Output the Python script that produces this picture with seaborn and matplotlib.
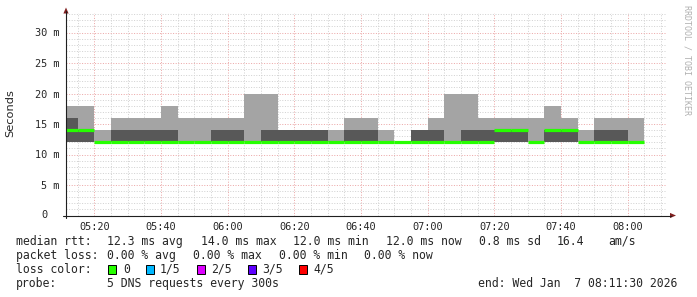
import numpy as np
import pandas as pd
import matplotlib
matplotlib.use("Agg")
import matplotlib.pyplot as plt
import seaborn as sns
from matplotlib.patches import Rectangle, Polygon
from matplotlib.lines import Line2D

# ---------------- data (5-minute slots, values in ms) ----------------
slot_start = ["05:10", "05:15", "05:20", "05:25", "05:30", "05:35", "05:40", "05:45",
              "05:50", "05:55", "06:00", "06:05", "06:10", "06:15", "06:20", "06:25",
              "06:30", "06:35", "06:40", "06:45", "06:50", "06:55", "07:00", "07:05",
              "07:10", "07:15", "07:20", "07:25", "07:30", "07:35", "07:40", "07:45",
              "07:50", "07:55", "08:00"]
ping_min = [12, 12, 12, 12, 12, 12, 12, 12, 12, 12, 12, 12, 12, 12, 12, 12, 12, 12,
            12, 12, 12, 12, 12, 12, 12, 12, 12, 12, 12, 12, 12, 12, 12, 12, 12]
ping_p2 = [12, 12, 12, 12, 12, 12, 12, 12, 12, 12, 12, 12, 12, 12, 12, 12, 12, 12,
           12, 12, 12, 12, 12, 12, 12, 12, 12, 12, 12, 12, 12, 12, 12, 12, 12]
ping_median = [14, 14, 12, 12, 12, 12, 12, 12, 12, 12, 12, 12, 12, 12, 12, 12, 12, 12,
               12, 12, 12, 12, 12, 12, 12, 12, 14, 14, 12, 14, 14, 12, 12, 12, 12]
ping_p4 = [16, 14, 12, 14, 14, 14, 14, 12, 12, 14, 14, 12, 14, 14, 14, 14, 12, 14,
           14, 12, 12, 14, 14, 12, 14, 14, 14, 14, 12, 14, 14, 12, 14, 14, 12]
ping_max = [18, 18, 14, 16, 16, 16, 18, 16, 16, 16, 16, 20, 20, 14, 14, 14, 14, 16,
            16, 14, 12, 14, 16, 20, 20, 16, 16, 16, 16, 18, 16, 14, 16, 16, 16]

x_tick_labels = ["05:20", "05:40", "06:00", "06:20", "06:40", "07:00", "07:20", "07:40", "08:00"]
y_tick_values = [0, 5, 10, 15, 20, 25, 30]
y_tick_labels = ["0", "5 m", "10 m", "15 m", "20 m", "25 m", "30 m"]

stats_rtt = ["median rtt:", "12.3 ms avg", "14.0 ms max", "12.0 ms min", "12.0 ms now",
             "0.8 ms sd", "16.4", "am/s"]
stats_loss = ["packet loss:", "0.00 % avg", "0.00 % max", "0.00 % min", "0.00 % now"]
loss_labels = ["0", "1/5", "2/5", "3/5", "4/5"]
loss_colors = ["#26ff00", "#00b8ff", "#dd00ff", "#5e00ff", "#ff0000"]
probe_text = ["probe:", "5 DNS requests every 300s", "end: Wed Jan  7 08:11:30 2026"]
STEP_MIN = 5


def to_min(s):
    h, m = s.split(":")
    return int(h) * 60 + int(m)


t0 = np.array([to_min(s) for s in slot_start], dtype=float)
t_edges = np.append(t0, t0[-1] + STEP_MIN)


def ext(a):
    a = np.asarray(a, dtype=float)
    return np.append(a, a[-1])


# ---------------- figure / layout in reference pixels ----------------
W, H = 697, 297
DPI = 100
sns.set_style("white")
plt.rcParams["font.family"] = ["DejaVu Sans Mono", "DejaVu Sans"]


def fx(x):
    return x / W


def fy(y):
    return 1 - y / H


fig = plt.figure(figsize=(W / DPI, H / DPI), dpi=DPI, facecolor="white")
AX_L, AX_R, AX_T, AX_B = 66, 666, 13, 215.5
ax = fig.add_axes([fx(AX_L), fy(AX_B), (AX_R - AX_L) / W, (AX_B - AX_T) / H])
ax.set_facecolor("white")
px_per_ms = 6.1
ymax = (AX_B - AX_T) / px_per_ms
xmin = to_min("05:11") + 0.5
ax.set_xlim(xmin, xmin + 180)
ax.set_ylim(0, ymax)

# smoke: outer pair (min..max) light, inner pair (p2..p4) dark
ax.fill_between(t_edges, ext(ping_min), ext(ping_max), step="post",
                color="#a4a4a4", lw=0, zorder=2)
ax.fill_between(t_edges, ext(ping_p2), ext(ping_p4), step="post",
                color="#585858", lw=0, zorder=2.1)

# median bars via seaborn (separate horizontal segment per slot)
rows = []
for i, (ts, m) in enumerate(zip(t0, ping_median)):
    rows.append({"t": ts, "ms": m, "seg": i})
    rows.append({"t": ts + STEP_MIN, "ms": m, "seg": i})
df_med = pd.DataFrame(rows)
sns.lineplot(data=df_med, x="t", y="ms", units="seg", estimator=None,
             color="#26ff00", lw=2.3, ax=ax, legend=False,
             solid_capstyle="butt", zorder=3)

# ticks and grid
major_x = [to_min(s) for s in x_tick_labels]
ax.set_xticks(major_x)
ax.set_xticklabels(x_tick_labels)
ax.set_xticks(np.arange(315, 495, 5), minor=True)
ax.set_yticks(y_tick_values)
ax.set_yticklabels([""] + y_tick_labels[1:])
ax.set_yticks(np.arange(1, 34, 1), minor=True)
ax.set_xlabel("")
ax.set_ylabel("")

ax.grid(which="minor", color="#d2d2d2", lw=0.72, ls=(0, (1, 1.6)), zorder=0)
ax.grid(which="major", color="#eca8a8", lw=0.72, ls=(0, (1, 1.6)), zorder=0.5)
ax.set_axisbelow(True)
for s in ax.spines.values():
    s.set_visible(False)

axis_col = "#1f1f1f"
ax.tick_params(which="major", direction="out", length=2.2, width=0.7, color=axis_col,
               labelsize=7.4, pad=2.4)
ax.tick_params(which="minor", direction="out", length=1.4, width=0.7, color=axis_col)
ax.tick_params(axis="x", which="major", pad=2.8)
for lab in ax.get_xticklabels() + ax.get_yticklabels():
    lab.set_family("DejaVu Sans Mono")

# "0" label sits under the digit column like rrdtool
fig.text(fx(44.5), fy(215.5), y_tick_labels[0], ha="center", va="center",
         fontsize=7.4, family="DejaVu Sans Mono")

# axis lines with arrows
fig.add_artist(Line2D([fx(63), fx(671)], [fy(AX_B), fy(AX_B)], color=axis_col, lw=0.8))
fig.add_artist(Line2D([fx(AX_L), fx(AX_L)], [fy(218), fy(11)], color=axis_col, lw=0.8))
arrow_col = "#801f1f"
fig.add_artist(Polygon([[fx(670), fy(AX_B - 2.6)], [fx(670), fy(AX_B + 2.6)], [fx(676), fy(AX_B)]],
                       closed=True, color=arrow_col, lw=0))
fig.add_artist(Polygon([[fx(AX_L - 2.6), fy(13.5)], [fx(AX_L + 2.6), fy(13.5)], [fx(AX_L), fy(7.5)]],
                       closed=True, color=arrow_col, lw=0))

# y-axis title and watermark
fig.text(fx(10), fy(113.5), "Seconds", rotation=90, ha="center", va="center",
         fontsize=8.2, family="DejaVu Sans")
fig.text(fx(687.5), fy(60), "RRDTOOL / TOBI OETIKER", rotation=270, ha="center", va="center",
         fontsize=6.0, color="#b0b0b0", family="DejaVu Sans Mono")

# legend / statistics block
FS = 8.3
rtt_x = [16, 107, 201, 293, 386, 479, 557, 608]
for s, x in zip(stats_rtt, rtt_x):
    fig.text(fx(x), fy(245), s, fontsize=FS, va="baseline", ha="left")
loss_x = [16, 107, 193, 279, 364]
for s, x in zip(stats_loss, loss_x):
    fig.text(fx(x), fy(259), s, fontsize=FS, va="baseline", ha="left")
fig.text(fx(16), fy(273), "loss color:", fontsize=FS, va="baseline", ha="left")
box_x = [108, 146, 197, 248, 299]
lab_x = [123, 160, 211, 262, 313]
for c, l, bx, lx in zip(loss_colors, loss_labels, box_x, lab_x):
    fig.add_artist(Rectangle((fx(bx), fy(273.5)), 8 / W, 9 / H, facecolor=c,
                             edgecolor="black", lw=0.7))
    fig.text(fx(lx), fy(273), l, fontsize=FS, va="baseline", ha="left")
fig.text(fx(16), fy(287), probe_text[0], fontsize=FS, va="baseline", ha="left")
fig.text(fx(107), fy(287), probe_text[1], fontsize=FS, va="baseline", ha="left")
fig.text(fx(478), fy(287), probe_text[2], fontsize=FS, va="baseline", ha="left")

fig.savefig("out.png", dpi=DPI, facecolor="white")
